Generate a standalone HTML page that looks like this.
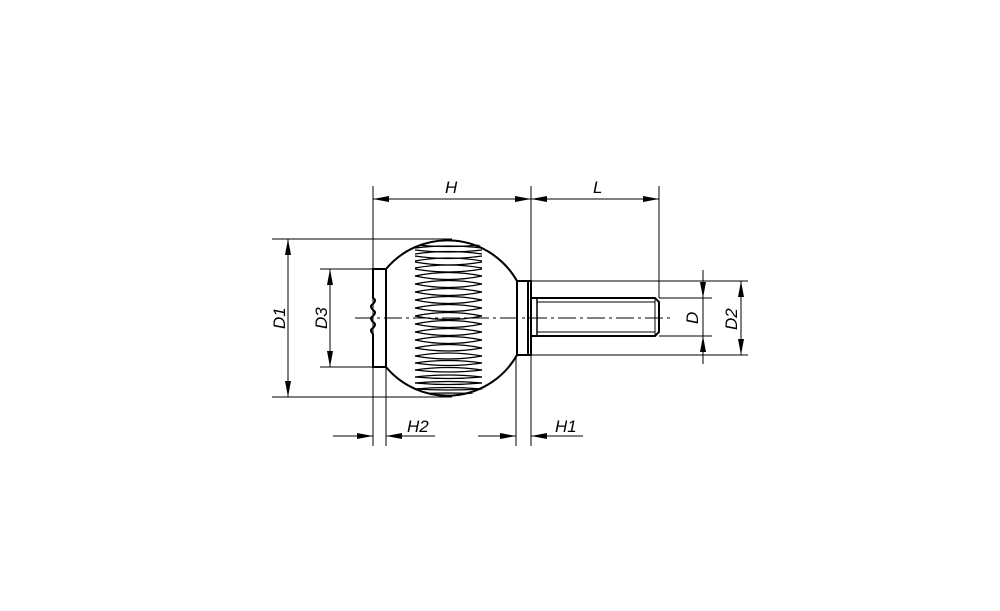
<!DOCTYPE html>
<html><head><style>body{margin:0;background:#fff}svg{display:block}text{font-family:"Liberation Sans",sans-serif;font-style:italic;font-size:17px;fill:#000}</style></head>
<body>
<svg width="1000" height="611" viewBox="0 0 1000 611" xmlns="http://www.w3.org/2000/svg">
<defs>
<marker id="a" markerWidth="16" markerHeight="6" refX="16" refY="3" orient="auto" markerUnits="userSpaceOnUse"><path d="M0,0 L16,3 L0,6z" fill="#000"/></marker>
<clipPath id="c"><circle cx="449" cy="318" r="79"/></clipPath>
</defs>
<g stroke="#000" stroke-width="1" fill="none">
<line x1="373" y1="186" x2="373" y2="446"/>
<line x1="386" y1="367" x2="386" y2="446"/>
<line x1="531" y1="186" x2="531" y2="446"/>
<line x1="516" y1="355" x2="516" y2="446"/>
<line x1="659" y1="186" x2="659" y2="298"/>
<line x1="272" y1="239" x2="452" y2="239"/>
<line x1="272" y1="397" x2="452" y2="397"/>
<line x1="320" y1="269" x2="378" y2="269"/>
<line x1="320" y1="367" x2="378" y2="367"/>
<line x1="532" y1="281" x2="748" y2="281"/>
<line x1="532" y1="355" x2="748" y2="355"/>
<line x1="659" y1="298" x2="712" y2="298"/>
<line x1="659" y1="336" x2="712" y2="336"/>
<line x1="452" y1="199" x2="373" y2="199" marker-end="url(#a)"/>
<line x1="452" y1="199" x2="531" y2="199" marker-end="url(#a)"/>
<line x1="595" y1="199" x2="531" y2="199" marker-end="url(#a)"/>
<line x1="595" y1="199" x2="659" y2="199" marker-end="url(#a)"/>
<line x1="288" y1="318" x2="288" y2="239" marker-end="url(#a)"/>
<line x1="288" y1="318" x2="288" y2="397" marker-end="url(#a)"/>
<line x1="330" y1="318" x2="330" y2="269" marker-end="url(#a)"/>
<line x1="330" y1="318" x2="330" y2="367" marker-end="url(#a)"/>
<line x1="741" y1="318" x2="741" y2="281" marker-end="url(#a)"/>
<line x1="741" y1="318" x2="741" y2="355" marker-end="url(#a)"/>
<line x1="703" y1="270" x2="703" y2="298" marker-end="url(#a)"/>
<line x1="703" y1="364" x2="703" y2="336" marker-end="url(#a)"/>
<line x1="703" y1="298" x2="703" y2="336"/>
<line x1="333" y1="436" x2="373" y2="436" marker-end="url(#a)"/>
<line x1="435" y1="436" x2="386" y2="436" marker-end="url(#a)"/>
<line x1="478" y1="436" x2="516" y2="436" marker-end="url(#a)"/>
<line x1="583" y1="436" x2="531" y2="436" marker-end="url(#a)"/>
<line x1="355" y1="318" x2="672" y2="318" stroke-dasharray="18,4,3,4"/>
</g>
<g stroke="#000" stroke-width="2" fill="none">
<path d="M386,269 A80,80 0 0 1 517,281 M386,367 A80,80 0 0 0 517,355"/>
<path d="M386,269 L373,269 L373,298 q4,2 0,6 q-4,2 0,6 q4,2 0,6 q-4,2 0,6 q4,2 0,6 q-4,2 0,6 L373,367 L386,367 Z"/>
<rect x="517" y="281" width="14" height="74"/>
<line x1="528" y1="281" x2="528" y2="355"/>
<path d="M531,298 L655,298 L659,302 L659,332 L655,336 L531,336"/>
<line x1="537" y1="298" x2="537" y2="336" stroke-width="1.5"/>
<line x1="537" y1="302" x2="655" y2="302" stroke-width="1"/>
<line x1="537" y1="332" x2="655" y2="332" stroke-width="1"/>
<line x1="655" y1="298" x2="655" y2="336" stroke-width="1"/>
</g>
<g stroke="#000" stroke-width="1.3" fill="none" clip-path="url(#c)">
<path d="M415,245 Q448,248 482,245 M415,250 Q448,254 482,250 M415,256 Q448,261 482,256 M415,262 Q448,268 482,262 M415,269 Q448,275 482,269 M415,276 Q448,283 482,276 M415,284 Q448,291 482,284 M415,292 Q448,299 482,292 M415,300 Q448,307 482,300 M415,308 Q448,315 482,308 M415,316 Q448,323 482,316 M415,324 Q448,331 482,324 M415,332 Q448,339 482,332 M415,340 Q448,347 482,340 M415,348 Q448,354 482,348 M415,356 Q448,362 482,356 M415,363 Q448,368 482,363 M415,370 Q448,374 482,370 M415,377 Q448,380 482,377 M415,383 Q448,386 482,383 M415,389 Q448,391 482,389"/>
<path d="M415,248 Q448,244 482,248 M415,254 Q448,249 482,254 M415,261 Q448,255 482,261 M415,268 Q448,262 482,268 M415,276 Q448,269 482,276 M415,284 Q448,277 482,284 M415,292 Q448,285 482,292 M415,300 Q448,293 482,300 M415,308 Q448,301 482,308 M415,316 Q448,309 482,316 M415,324 Q448,317 482,324 M415,332 Q448,325 482,332 M415,340 Q448,333 482,340 M415,348 Q448,341 482,348 M415,356 Q448,350 482,356 M415,363 Q448,358 482,363 M415,370 Q448,365 482,370 M415,377 Q448,373 482,377 M415,383 Q448,380 482,383 M415,389 Q448,386 482,389 M415,394 Q448,392 482,394"/>
</g>
<text x="445" y="193">H</text>
<text x="593" y="193">L</text>
<text x="407" y="432">H2</text>
<text x="555" y="432">H1</text>
<text transform="translate(285,329) rotate(-90)">D1</text>
<text transform="translate(327,329) rotate(-90)">D3</text>
<text transform="translate(698,324) rotate(-90)">D</text>
<text transform="translate(737,330) rotate(-90)">D2</text>
</svg>
</body></html>
